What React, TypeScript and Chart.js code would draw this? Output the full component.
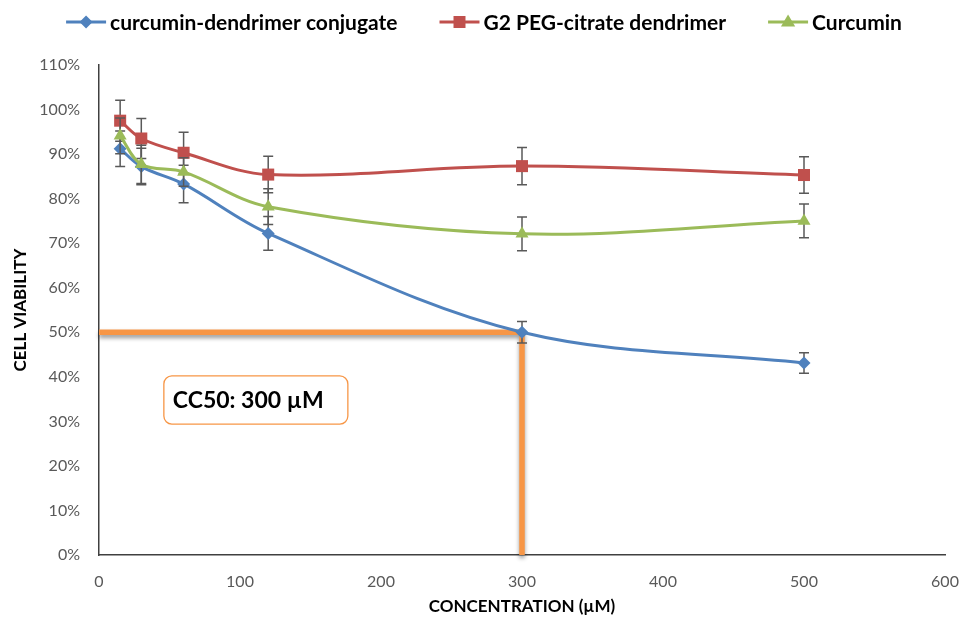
import React, { useEffect, useRef } from "react";
import { Chart, registerables } from "chart.js";

Chart.register(...registerables);

// ---- data ----
const CONCENTRATIONS = [15, 30, 60, 120, 300, 500];
const SERIES_NAMES = ["curcumin-dendrimer conjugate", "G2 PEG-citrate dendrimer", "Curcumin"];
const CONJUGATE = [91.2, 87.2, 83.3, 72.2, 50, 43.1];
const CONJUGATE_ERR = [4, 4.1, 4.2, 3.8, 2.4, 2.3];
const DENDRIMER = [97.5, 93.5, 90.3, 85.4, 87.3, 85.3];
const DENDRIMER_ERR = [4.6, 4.5, 4.6, 4.1, 4.2, 4.1];
const CURCUMIN = [94.1, 87.7, 86, 78.2, 72.1, 75];
const CURCUMIN_ERR = [4, 4.3, 3.2, 4, 3.8, 3.8];
const X_MIN = 0;
const X_MAX = 600;
const X_STEP = 100;
const Y_MIN = 0;
const Y_MAX = 110;
const Y_STEP = 10;
const CC50_X = 300;
const CC50_Y = 50;
const CC50_LABEL = "CC50: 300 µM";
const X_TITLE = "CONCENTRATION (µM)";
const Y_TITLE = "CELL VIABILITY";

const COLORS = ["#4F81BD", "#C0504D", "#9BBB59"];
const MARKERS = ["diamond", "square", "triangle"];
const ORANGE = "#F79646";
const FONT = "Lato, 'Open Sans', sans-serif";

function drawMarker(ctx: CanvasRenderingContext2D, kind: string, x: number, y: number, color: string) {
  ctx.save();
  ctx.fillStyle = color;
  ctx.beginPath();
  if (kind === "diamond") {
    const r = 6.5;
    ctx.moveTo(x, y - r);
    ctx.lineTo(x + r, y);
    ctx.lineTo(x, y + r);
    ctx.lineTo(x - r, y);
  } else if (kind === "square") {
    const s = 6;
    ctx.rect(x - s, y - s, 2 * s, 2 * s);
  } else {
    const r = 7.5;
    ctx.moveTo(x, y - r);
    ctx.lineTo(x + r * 0.95, y + r * 0.6);
    ctx.lineTo(x - r * 0.95, y + r * 0.6);
  }
  ctx.closePath();
  ctx.fill();
  ctx.restore();
}

const ERRORS = [CONJUGATE_ERR, DENDRIMER_ERR, CURCUMIN_ERR];

const chartPlugin = {
  id: "custom",
  beforeDatasetDraw(chart: any, args: any) {
    const ds = chart.data.datasets[args.index];
    if (ds.isRef) {
      const ctx = chart.ctx;
      ctx.save();
      ctx.shadowColor = "rgba(0,0,0,0.4)";
      ctx.shadowOffsetY = 3;
      ctx.shadowBlur = 4;
      return;
    }
    const errs = ERRORS[args.index];
    if (!errs) return;
    const ctx = chart.ctx;
    const meta = chart.getDatasetMeta(args.index);
    const ys = chart.scales.y;
    ctx.save();
    ctx.strokeStyle = "#595959";
    ctx.lineWidth = 1.5;
    meta.data.forEach((el: any, i: number) => {
      const v = ds.data[i].y;
      const top = ys.getPixelForValue(v + errs[i]);
      const bot = ys.getPixelForValue(v - errs[i]);
      ctx.beginPath();
      ctx.moveTo(el.x, top);
      ctx.lineTo(el.x, bot);
      ctx.moveTo(el.x - 5, top);
      ctx.lineTo(el.x + 5, top);
      ctx.moveTo(el.x - 5, bot);
      ctx.lineTo(el.x + 5, bot);
      ctx.stroke();
    });
    ctx.restore();
  },
  afterDatasetDraw(chart: any, args: any) {
    const ds = chart.data.datasets[args.index];
    if (ds.isRef) chart.ctx.restore();
  },
  afterDraw(chart: any) {
    const ctx = chart.ctx;
    const xs = chart.scales.x;
    const ys = chart.scales.y;
    // annotation box
    const bx0 = xs.getPixelForValue(46);
    const bx1 = xs.getPixelForValue(176.5);
    const by0 = ys.getPixelForValue(40.2);
    const by1 = ys.getPixelForValue(29.4);
    ctx.save();
    ctx.fillStyle = "#ffffff";
    ctx.strokeStyle = ORANGE;
    ctx.lineWidth = 1.3;
    ctx.beginPath();
    (ctx as any).roundRect(bx0, by0, bx1 - bx0, by1 - by0, 8);
    ctx.fill();
    ctx.stroke();
    ctx.fillStyle = "#000000";
    ctx.font = `bold 23px ${FONT}`;
    ctx.textAlign = "left";
    ctx.textBaseline = "middle";
    ctx.fillText(CC50_LABEL, bx0 + 9, (by0 + by1) / 2 + 1);
    ctx.restore();

    // legend
    ctx.save();
    ctx.font = `bold 21px ${FONT}`;
    ctx.textBaseline = "middle";
    ctx.textAlign = "left";
    const lineLen = 40;
    const gap = 4;
    const spacing = 42;
    const widths = SERIES_NAMES.map((n) => ctx.measureText(n).width);
    const total = widths.reduce((a, w) => a + lineLen + gap + w, 0) + spacing * (SERIES_NAMES.length - 1);
    let x = 484 - total / 2;
    const y = 22;
    SERIES_NAMES.forEach((name, i) => {
      ctx.strokeStyle = COLORS[i];
      ctx.lineWidth = 3;
      ctx.beginPath();
      ctx.moveTo(x, y);
      ctx.lineTo(x + lineLen, y);
      ctx.stroke();
      drawMarker(ctx, MARKERS[i], x + lineLen / 2, y, COLORS[i]);
      ctx.fillStyle = "#000000";
      ctx.fillText(name, x + lineLen + gap, y + 1);
      x += lineLen + gap + widths[i] + spacing;
    });
    ctx.restore();
  },
};

function toPoints(vals: number[]) {
  return CONCENTRATIONS.map((c, i) => ({ x: c, y: vals[i] }));
}

export default function App() {
  const ref = useRef<HTMLCanvasElement | null>(null);
  useEffect(() => {
    document.body.style.margin = "0";
    const canvas = ref.current!;
    const seriesVals = [CONJUGATE, DENDRIMER, CURCUMIN];
    const pointStyles = ["rectRot", "rect", "triangle"];
    const radii = [6.5, 8.5, 7.5];
    const datasets: any[] = seriesVals.map((vals, i) => ({
      label: SERIES_NAMES[i],
      data: toPoints(vals),
      borderColor: COLORS[i],
      backgroundColor: COLORS[i],
      borderWidth: 3,
      pointStyle: pointStyles[i],
      pointRadius: radii[i],
      pointBorderWidth: 0,
      pointBackgroundColor: COLORS[i],
      tension: 0.35,
      order: 3 - i,
    }));
    datasets.push({
      label: "CC50",
      isRef: true,
      data: [
        { x: X_MIN, y: CC50_Y },
        { x: CC50_X, y: CC50_Y },
        { x: CC50_X, y: Y_MIN },
      ],
      borderColor: ORANGE,
      borderWidth: 5.5,
      pointRadius: 0,
      tension: 0,
      order: 10,
      clip: false,
    });
    const chart = new Chart(canvas, {
      type: "line",
      data: { datasets },
      options: {
        animation: false,
        responsive: false,
        layout: { padding: { top: 65, right: 19, left: 0, bottom: 0 } },
        plugins: { legend: { display: false }, tooltip: { enabled: false } },
        scales: {
          x: {
            type: "linear",
            min: X_MIN,
            max: X_MAX,
            ticks: { stepSize: X_STEP, color: "#595959", font: { family: FONT, size: 16 }, padding: 17 },
            grid: { display: false, drawTicks: false },
            border: { display: true, color: "#404040", width: 1.5 },
            title: {
              display: true,
              text: X_TITLE,
              color: "#000000",
              font: { family: FONT, size: 17, weight: "bold" },
              padding: { top: 0, bottom: 5 },
            },
            afterFit: (s: any) => {
              s.height = 67;
              s.paddingLeft = 0;
              s.paddingRight = 0;
            },
          },
          y: {
            min: Y_MIN,
            max: Y_MAX,
            ticks: {
              stepSize: Y_STEP,
              color: "#595959",
              font: { family: FONT, size: 16 },
              padding: 19,
              callback: (v: any) => v + "%",
            },
            grid: { display: false, drawTicks: false },
            border: { display: true, color: "#404040", width: 1.5 },
            title: {
              display: true,
              text: Y_TITLE,
              color: "#000000",
              font: { family: FONT, size: 17, weight: "bold" },
              padding: { top: 10, bottom: 0 },
            },
            afterFit: (s: any) => {
              s.width = 99;
              s.paddingTop = 0;
              s.paddingBottom = 0;
            },
          },
        },
      } as any,
      plugins: [chartPlugin as any],
    });
    return () => chart.destroy();
  }, []);
  return (
    <div style={{ position: "absolute", left: 0, top: 0, width: 964, height: 622, background: "#fff" }}>
      <canvas ref={ref} width={964} height={622} />
    </div>
  );
}
